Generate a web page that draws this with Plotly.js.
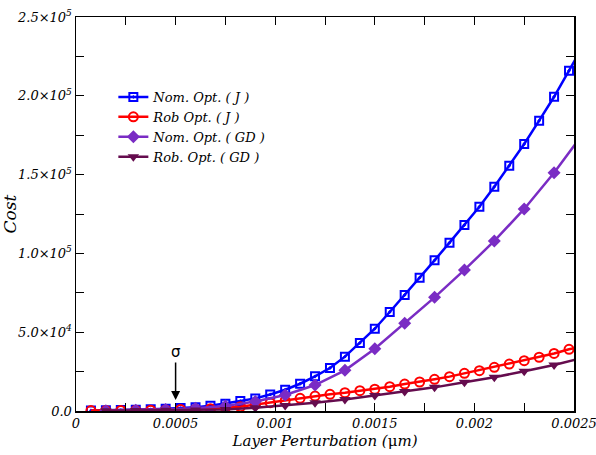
<!DOCTYPE html>
<html>
<head>
<meta charset="utf-8">
<script src="https://cdn.plot.ly/plotly-3.0.1.min.js"></script>
<style>
  html, body { margin: 0; padding: 0; background: #fff; }
  #chart { width: 596px; height: 455px; }
</style>
</head>
<body>
<div id="chart"></div>
<script>
// Layer perturbation grids (µm)
const xJ = [0.000075, 0.00015, 0.000225, 0.0003, 0.000375, 0.00045, 0.000525, 0.0006,
  0.000675, 0.00075, 0.000825, 0.0009, 0.000975, 0.00105, 0.001125, 0.0012, 0.001275,
  0.00135, 0.001425, 0.0015, 0.001575, 0.00165, 0.001725, 0.0018, 0.001875, 0.00195,
  0.002025, 0.0021, 0.002175, 0.00225, 0.002325, 0.0024, 0.002475, 0.00255];
const xGD = [0.00015, 0.0003, 0.00045, 0.0006, 0.00075, 0.0009, 0.00105, 0.0012, 0.00135,
  0.0015, 0.00165, 0.0018, 0.00195, 0.0021, 0.00225, 0.0024, 0.00255];

// Cost values
const nomJ = [350, 450, 600, 800, 1050, 1400, 1850, 2400, 3300, 4600, 6300, 8000, 10500,
  13500, 17300, 22000, 27300, 34500, 43100, 52200, 62800, 73600, 84600, 95600, 106800,
  118000, 129600, 142300, 155600, 169400, 184200, 199400, 215900, 232700];
const robJ = [250, 300, 350, 450, 550, 700, 900, 1150, 1500, 2000, 2700, 4000, 5270, 6550,
  8050, 9500, 10600, 11600, 12900, 13800, 15400, 17100, 18400, 20100, 21800, 23900, 25600,
  27700, 29800, 31900, 34100, 36500, 39150, 41300];
const nomGD = [200, 400, 900, 1700, 3200, 6000, 10150, 16500, 25800, 39500, 55600, 72100,
  89500, 107900, 128200, 151200, 176700];
const robGD = [150, 250, 400, 600, 1000, 2000, 3500, 5200, 7300, 9800, 12300, 15000, 18200,
  21400, 25200, 29200, 34000];

const yTickVals = [0, 50000, 100000, 150000, 200000, 250000];
const yTickText = ['0.0', '5.0×10<sup>4</sup>', '1.0×10<sup>5</sup>', '1.5×10<sup>5</sup>',
  '2.0×10<sup>5</sup>', '2.5×10<sup>5</sup>'].map(t => '<i>' + t + '</i>');
const xTickVals = [0, 0.0005, 0.001, 0.0015, 0.002, 0.0025];
const xTickText = ['0', '0.0005', '0.001', '0.0015', '0.002', '0.0025'].map(t => '<i>' + t + '</i>');

const serif = 'DejaVu Serif';

const traces = [
  { x: xJ, y: nomJ, name: '<i>Nom. Opt. ( J )</i>', mode: 'lines+markers',
    line: { color: '#0000ff', width: 2.5 },
    marker: { symbol: 'square-open-dot', size: 8, color: '#0000ff', line: { width: 2, color: '#0000ff' } } },
  { x: xJ, y: robJ, name: '<i>Rob Opt. ( J )</i>', mode: 'lines+markers',
    line: { color: '#ff0000', width: 2.5 },
    marker: { symbol: 'circle-open', size: 9, color: '#ff0000', line: { width: 2, color: '#ff0000' } } },
  { x: xGD, y: nomGD, name: '<i>Nom. Opt. ( GD )</i>', mode: 'lines+markers',
    line: { color: '#7a2cc4', width: 2.5 },
    marker: { symbol: 'diamond', size: 10, color: '#7a2cc4' } },
  { x: xGD, y: robGD, name: '<i>Rob. Opt. ( GD )</i>', mode: 'lines+markers',
    line: { color: '#650c4e', width: 2.5 },
    marker: { symbol: 'triangle-down', size: 10, color: '#650c4e' } }
];

const axisCommon = {
  showgrid: false, zeroline: false, showline: true, linecolor: '#000', linewidth: 1.5,
  mirror: 'ticks', ticks: 'inside', ticklen: 8, tickwidth: 1, tickcolor: '#000',
  ticklabeloverflow: 'allow',
  tickfont: { family: serif, size: 13, color: '#000' }
};

const layout = {
  width: 596, height: 455,
  margin: { l: 76, r: 22, t: 17, b: 44 },
  paper_bgcolor: '#fff', plot_bgcolor: '#fff',
  font: { family: serif, color: '#000' },
  showlegend: true,
  legend: {
    x: 0.075, y: 0.835, xanchor: 'left', yanchor: 'top',
    bgcolor: 'rgba(0,0,0,0)', borderwidth: 0,
    font: { family: serif, size: 13, color: '#000' },
    tracegroupgap: 0, itemwidth: 30
  },
  xaxis: Object.assign({}, axisCommon, {
    range: [0, 0.0025], tickmode: 'array', tickvals: xTickVals, ticktext: xTickText,
    minor: { dtick: 0.00025, ticks: 'inside', ticklen: 8, tickcolor: '#000', showgrid: false },
    title: { text: '<i>Layer Perturbation (</i>μ<i>m)</i>', standoff: 5,
      font: { family: serif, size: 15, color: '#000' } }
  }),
  yaxis: Object.assign({}, axisCommon, {
    range: [0, 250000], tickmode: 'array', tickvals: yTickVals, ticktext: yTickText,
    minor: { dtick: 25000, ticks: 'inside', ticklen: 8, tickcolor: '#000', showgrid: false },
    title: { text: '<i>Cost</i>', standoff: 0,
      font: { family: serif, size: 17, color: '#000' } }
  }),
  annotations: [{
    x: 0.0005, y: 7000, xref: 'x', yref: 'y',
    text: 'σ', showarrow: true, arrowhead: 2, arrowsize: 1.2, arrowwidth: 1.5, arrowcolor: '#000',
    ax: 0, ay: -48,
    font: { family: 'DejaVu Sans', size: 15, color: '#000' }
  }]
};

Plotly.newPlot('chart', traces, layout, { staticPlot: true, displayModeBar: false });
</script>
</body>
</html>
